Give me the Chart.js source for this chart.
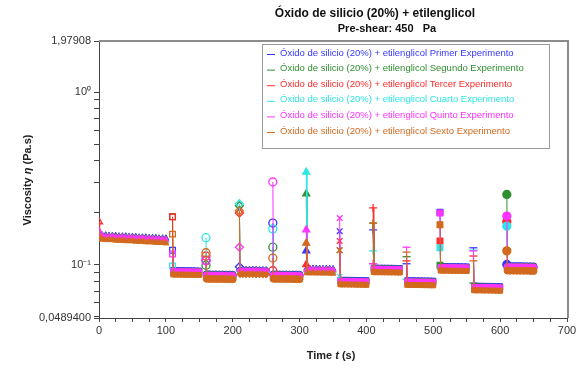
<!DOCTYPE html>
<html>
<head>
<meta charset="utf-8">
<script src="https://cdn.jsdelivr.net/npm/chart.js@4.4.0/dist/chart.umd.min.js"></script>
<style>
  body { margin: 0; background: #fff; }
  #wrap { width: 581px; height: 370px; }
</style>
</head>
<body>
<div id="wrap"><canvas id="myChart" width="581" height="370"></canvas></div>
<script>
// time (s) of every measuring point, 12 intervals
const times = [
  0, 1, 5, 10, 15, 20, 25, 30, 35, 40, 45, 50, 55, 60, 65, 70, 75, 80, 85, 90, 95, 100,
  110, 111, 115, 120, 125, 130, 135, 140, 145, 150,
  160, 161, 165, 170, 175, 180, 185, 190, 195, 200,
  210, 211, 215, 220, 225, 230, 235, 240, 245, 250,
  260, 261, 265, 270, 275, 280, 285, 290, 295, 300,
  310, 311, 315, 320, 325, 330, 335, 340, 345, 350,
  360, 361, 365, 370, 375, 380, 385, 390, 395, 400,
  410, 411, 415, 420, 425, 430, 435, 440, 445, 450,
  460, 461, 465, 470, 475, 480, 485, 490, 495, 500,
  510, 511, 515, 520, 525, 530, 535, 540, 545, 550,
  560, 561, 565, 570, 575, 580, 585, 590, 595, 600,
  610, 611, 615, 620, 625, 630, 635, 640, 645, 650
];

const primer = [
  0.150, 0.148, 0.148, 0.148, 0.147, 0.147, 0.147, 0.146, 0.146, 0.146, 0.145, 0.145, 0.145, 0.144, 0.144, 0.144, 0.143, 0.143, 0.143, 0.142, 0.142, 0.142,
  0.121, 0.0930, 0.0928, 0.0927, 0.0927, 0.0926, 0.0925, 0.0925, 0.0924, 0.0922,
  0.106, 0.0878, 0.0877, 0.0876, 0.0876, 0.0875, 0.0875, 0.0874, 0.0874, 0.0872,
  0.097, 0.0935, 0.0934, 0.0933, 0.0932, 0.0932, 0.0931, 0.0930, 0.0930, 0.0928,
  0.174, 0.0877, 0.0876, 0.0876, 0.0875, 0.0875, 0.0874, 0.0874, 0.0873, 0.0872,
  0.120, 0.0950, 0.0949, 0.0948, 0.0948, 0.0947, 0.0946, 0.0946, 0.0945, 0.0944,
  0.156, 0.0816, 0.0815, 0.0815, 0.0814, 0.0814, 0.0813, 0.0813, 0.0812, 0.0811,
  0.159, 0.0960, 0.0959, 0.0958, 0.0958, 0.0957, 0.0957, 0.0956, 0.0955, 0.0954,
  0.101, 0.0811, 0.0810, 0.0810, 0.0809, 0.0809, 0.0808, 0.0808, 0.0807, 0.0806,
  0.201, 0.0981, 0.0980, 0.0979, 0.0979, 0.0978, 0.0978, 0.0977, 0.0976, 0.0975,
  0.125, 0.0754, 0.0753, 0.0753, 0.0752, 0.0752, 0.0751, 0.0751, 0.0750, 0.0749,
  0.100, 0.0981, 0.0980, 0.0980, 0.0979, 0.0979, 0.0978, 0.0977, 0.0977, 0.0976
];
const segundo = [
  0.146, 0.147, 0.147, 0.146, 0.146, 0.146, 0.145, 0.145, 0.145, 0.144, 0.144, 0.144, 0.143, 0.143, 0.143, 0.142, 0.142, 0.142, 0.141, 0.141, 0.141, 0.140,
  0.189, 0.0920, 0.0919, 0.0918, 0.0918, 0.0917, 0.0916, 0.0916, 0.0915, 0.0914,
  0.099, 0.0869, 0.0868, 0.0867, 0.0867, 0.0866, 0.0866, 0.0865, 0.0865, 0.0864,
  0.219, 0.0925, 0.0924, 0.0923, 0.0923, 0.0922, 0.0922, 0.0921, 0.0920, 0.0919,
  0.126, 0.0869, 0.0868, 0.0867, 0.0867, 0.0866, 0.0866, 0.0865, 0.0864, 0.0863,
  0.257, 0.0940, 0.0939, 0.0939, 0.0938, 0.0938, 0.0937, 0.0937, 0.0936, 0.0935,
  0.121, 0.0807, 0.0806, 0.0806, 0.0805, 0.0805, 0.0804, 0.0804, 0.0803, 0.0802,
  0.174, 0.0950, 0.0949, 0.0949, 0.0948, 0.0948, 0.0947, 0.0947, 0.0946, 0.0945,
  0.111, 0.0802, 0.0801, 0.0801, 0.0800, 0.0800, 0.0799, 0.0799, 0.0798, 0.0797,
  0.099, 0.0971, 0.0970, 0.0970, 0.0969, 0.0969, 0.0968, 0.0968, 0.0967, 0.0966,
  0.078, 0.0746, 0.0745, 0.0745, 0.0744, 0.0744, 0.0743, 0.0743, 0.0742, 0.0741,
  0.255, 0.0971, 0.0970, 0.0970, 0.0969, 0.0969, 0.0968, 0.0968, 0.0967, 0.0966
];
const tercer = [
  0.177, 0.145, 0.145, 0.144, 0.144, 0.144, 0.143, 0.143, 0.143, 0.142, 0.142, 0.142, 0.141, 0.141, 0.141, 0.140, 0.140, 0.140, 0.139, 0.139, 0.139, 0.138,
  0.189, 0.0906, 0.0905, 0.0905, 0.0904, 0.0904, 0.0903, 0.0902, 0.0902, 0.0901,
  0.112, 0.0856, 0.0855, 0.0855, 0.0854, 0.0854, 0.0853, 0.0853, 0.0852, 0.0851,
  0.199, 0.0911, 0.0910, 0.0910, 0.0909, 0.0909, 0.0908, 0.0908, 0.0907, 0.0906,
  0.092, 0.0856, 0.0855, 0.0855, 0.0854, 0.0854, 0.0853, 0.0852, 0.0852, 0.0851,
  0.100, 0.0926, 0.0925, 0.0925, 0.0924, 0.0924, 0.0923, 0.0923, 0.0922, 0.0921,
  0.137, 0.0795, 0.0794, 0.0794, 0.0793, 0.0793, 0.0792, 0.0792, 0.0791, 0.0790,
  0.213, 0.0936, 0.0935, 0.0935, 0.0934, 0.0934, 0.0933, 0.0933, 0.0932, 0.0931,
  0.105, 0.0790, 0.0789, 0.0789, 0.0788, 0.0788, 0.0787, 0.0787, 0.0786, 0.0785,
  0.137, 0.0956, 0.0955, 0.0955, 0.0954, 0.0954, 0.0953, 0.0953, 0.0952, 0.0951,
  0.112, 0.0735, 0.0734, 0.0734, 0.0733, 0.0733, 0.0732, 0.0732, 0.0731, 0.0730,
  0.177, 0.0956, 0.0955, 0.0955, 0.0954, 0.0954, 0.0953, 0.0953, 0.0952, 0.0951
];
const cuarto = [
  0.147, 0.144, 0.144, 0.143, 0.143, 0.143, 0.142, 0.142, 0.142, 0.141, 0.141, 0.141, 0.140, 0.140, 0.140, 0.139, 0.139, 0.139, 0.138, 0.138, 0.138, 0.137,
  0.098, 0.0902, 0.0901, 0.0900, 0.0900, 0.0899, 0.0899, 0.0898, 0.0897, 0.0896,
  0.143, 0.0852, 0.0851, 0.0851, 0.0850, 0.0850, 0.0849, 0.0849, 0.0848, 0.0847,
  0.225, 0.0907, 0.0906, 0.0906, 0.0905, 0.0905, 0.0904, 0.0904, 0.0903, 0.0902,
  0.161, 0.0852, 0.0851, 0.0851, 0.0850, 0.0850, 0.0849, 0.0849, 0.0848, 0.0847,
  0.344, 0.0922, 0.0921, 0.0921, 0.0920, 0.0920, 0.0919, 0.0919, 0.0918, 0.0917,
  0.085, 0.0791, 0.0790, 0.0790, 0.0789, 0.0789, 0.0788, 0.0788, 0.0787, 0.0786,
  0.120, 0.0932, 0.0931, 0.0931, 0.0930, 0.0930, 0.0929, 0.0929, 0.0928, 0.0927,
  0.082, 0.0786, 0.0785, 0.0785, 0.0784, 0.0784, 0.0783, 0.0783, 0.0782, 0.0781,
  0.125, 0.0952, 0.0951, 0.0951, 0.0950, 0.0950, 0.0949, 0.0949, 0.0948, 0.0947,
  0.121, 0.0732, 0.0731, 0.0731, 0.0730, 0.0730, 0.0729, 0.0729, 0.0728, 0.0727,
  0.167, 0.0952, 0.0951, 0.0951, 0.0950, 0.0950, 0.0949, 0.0949, 0.0948, 0.0947
];
const quinto = [
  0.155, 0.146, 0.146, 0.145, 0.145, 0.145, 0.144, 0.144, 0.144, 0.143, 0.143, 0.143, 0.142, 0.142, 0.142, 0.141, 0.141, 0.141, 0.140, 0.140, 0.140, 0.139,
  0.115, 0.0915, 0.0914, 0.0914, 0.0913, 0.0913, 0.0912, 0.0912, 0.0911, 0.0910,
  0.105, 0.0864, 0.0863, 0.0863, 0.0862, 0.0862, 0.0861, 0.0861, 0.0860, 0.0859,
  0.126, 0.0920, 0.0919, 0.0919, 0.0918, 0.0918, 0.0917, 0.0917, 0.0916, 0.0915,
  0.301, 0.0864, 0.0863, 0.0863, 0.0862, 0.0862, 0.0861, 0.0861, 0.0860, 0.0859,
  0.159, 0.0935, 0.0934, 0.0934, 0.0933, 0.0933, 0.0932, 0.0932, 0.0931, 0.0930,
  0.186, 0.0803, 0.0802, 0.0802, 0.0801, 0.0801, 0.0800, 0.0800, 0.0799, 0.0798,
  0.101, 0.0945, 0.0944, 0.0944, 0.0943, 0.0943, 0.0942, 0.0942, 0.0941, 0.0940,
  0.126, 0.0798, 0.0797, 0.0797, 0.0796, 0.0796, 0.0795, 0.0795, 0.0794, 0.0793,
  0.199, 0.0966, 0.0965, 0.0965, 0.0964, 0.0964, 0.0963, 0.0963, 0.0962, 0.0961,
  0.120, 0.0742, 0.0741, 0.0741, 0.0740, 0.0740, 0.0739, 0.0739, 0.0738, 0.0737,
  0.191, 0.0966, 0.0965, 0.0965, 0.0964, 0.0964, 0.0963, 0.0963, 0.0962, 0.0961
];
const sexto = [
  0.146, 0.140, 0.140, 0.139, 0.139, 0.139, 0.138, 0.138, 0.138, 0.137, 0.137, 0.137, 0.136, 0.136, 0.136, 0.135, 0.135, 0.135, 0.134, 0.134, 0.134, 0.133,
  0.150, 0.0875, 0.0874, 0.0873, 0.0873, 0.0872, 0.0872, 0.0871, 0.0871, 0.0870,
  0.117, 0.0826, 0.0825, 0.0825, 0.0824, 0.0824, 0.0823, 0.0823, 0.0822, 0.0821,
  0.205, 0.0879, 0.0878, 0.0878, 0.0877, 0.0877, 0.0876, 0.0876, 0.0875, 0.0874,
  0.109, 0.0826, 0.0825, 0.0825, 0.0824, 0.0824, 0.0823, 0.0823, 0.0822, 0.0821,
  0.133, 0.0893, 0.0892, 0.0892, 0.0891, 0.0891, 0.0890, 0.0890, 0.0889, 0.0888,
  0.121, 0.0767, 0.0766, 0.0766, 0.0765, 0.0765, 0.0764, 0.0764, 0.0763, 0.0762,
  0.174, 0.0903, 0.0902, 0.0902, 0.0901, 0.0901, 0.0900, 0.0900, 0.0899, 0.0898,
  0.118, 0.0762, 0.0761, 0.0761, 0.0760, 0.0760, 0.0759, 0.0759, 0.0758, 0.0757,
  0.170, 0.0922, 0.0921, 0.0921, 0.0920, 0.0920, 0.0919, 0.0919, 0.0918, 0.0917,
  0.105, 0.0709, 0.0708, 0.0708, 0.0707, 0.0707, 0.0706, 0.0706, 0.0705, 0.0704,
  0.120, 0.0922, 0.0921, 0.0921, 0.0920, 0.0920, 0.0919, 0.0919, 0.0918, 0.0917
];

const seriesNames = [
  'Óxido de silicio (20%) + etilenglicol Primer Experimento',
  'Óxido de silicio (20%) + etilenglicol Segundo Experimento',
  'Óxido de silicio (20%) + etilenglicol Tercer Experimento',
  'Óxido de silicio (20%) + etilenglicol Cuarto Experimento',
  'Óxido de silicio (20%) + etilenglicol Quinto Experimento',
  'Óxido de silicio (20%) + etilenglicol Sexto Experimento'
];
const seriesValues = [primer, segundo, tercer, cuarto, quinto, sexto];
const seriesColors = ['#3535ff', '#2f8f2f', '#ff2a2a', '#2ee6e6', '#ff33ff', '#d2691e'];

const yLabelValues = [0.04894, 0.1, 1, 1.97908];
const yTickLabels = ['0,0489400', '10⁻¹', '10⁰', '1,97908'];
const yMinorTicks = [0.05, 0.06, 0.07, 0.08, 0.09, 0.2, 0.3, 0.4, 0.5, 0.6, 0.7, 0.8, 0.9];

// marker of each measuring interval
const segShapes = ['triangle', 'rect', 'circle', 'rectRot', 'circle', 'triangle', 'crossRot', 'cross', 'line', 'rect', 'line', 'circle'];
const segFilled = [false, false, false, false, false, true, false, false, false, true, false, true];
const thinShapes = ['crossRot', 'cross', 'line'];

function segOf(t) { return t < 105 ? 0 : Math.floor((t - 110) / 50) + 1; }
function isStart(t) { return t === 0 || (t >= 110 && (t - 110) % 50 === 0); }

function shapeAt(t) {
  const s = segShapes[segOf(t)];
  // dense runs of thin markers merge into a band
  return (!isStart(t) && thinShapes.includes(s)) ? 'rect' : s;
}

const datasets = seriesNames.map((name, k) => ({
  label: name,
  data: times.map((t, i) => ({ x: t, y: seriesValues[k][i] })),
  borderColor: seriesColors[k],
  borderWidth: 1,
  pointRadius: ctx => (ctx.raw && isStart(ctx.raw.x)) ? 4 : 3.5,
  pointBorderWidth: ctx => (ctx.raw && isStart(ctx.raw.x)) ? 1.3 : 1,
  pointBorderColor: seriesColors[k],
  pointStyle: ctx => ctx.raw ? shapeAt(ctx.raw.x) : 'circle',
  pointBackgroundColor: ctx => {
    if (!ctx.raw) return seriesColors[k];
    const t = ctx.raw.x;
    return (segFilled[segOf(t)] || !isStart(t)) ? seriesColors[k] : 'rgba(255,255,255,0)';
  },
  order: 6 - k,
  segment: {
    borderColor: ctx => (ctx.p1.parsed.x - ctx.p0.parsed.x > 6) ? 'rgba(0,0,0,0)' : undefined
  }
}));

const FONT = '"Liberation Sans", Arial, sans-serif';

function mixedText(ctx, parts, x, y) {
  // parts: [text, italic]; drawn centred at x
  let total = 0;
  parts.forEach(p => { ctx.font = (p[1] ? 'italic ' : '') + 'bold 11px ' + FONT; total += ctx.measureText(p[0]).width; });
  let cx = x - total / 2;
  ctx.textAlign = 'left';
  parts.forEach(p => {
    ctx.font = (p[1] ? 'italic ' : '') + 'bold 11px ' + FONT;
    ctx.fillText(p[0], cx, y);
    cx += ctx.measureText(p[0]).width;
  });
}

const decor = {
  id: 'decor',
  afterDraw(chart) {
    const ctx = chart.ctx;
    const a = chart.chartArea;
    ctx.save();
    // frame top / right
    ctx.strokeStyle = '#8c8c8c';
    ctx.lineWidth = 2;
    ctx.beginPath();
    ctx.moveTo(a.left, a.top);
    ctx.lineTo(a.right + 1, a.top);
    ctx.lineTo(a.right + 1, a.bottom);
    ctx.stroke();

    // legend box
    const lx = 262, ly = 44, lw = 287, lh = 104;
    ctx.fillStyle = '#fff';
    ctx.fillRect(lx, ly, lw, lh);
    ctx.strokeStyle = '#9a9a9a';
    ctx.lineWidth = 1;
    ctx.strokeRect(lx + 0.5, ly + 0.5, lw, lh);
    ctx.font = '9.5px ' + FONT;
    ctx.textBaseline = 'middle';
    ctx.textAlign = 'left';
    seriesNames.forEach((name, k) => {
      const y = ly + 9 + k * 15.6;
      ctx.strokeStyle = seriesColors[k];
      ctx.beginPath();
      ctx.moveTo(lx + 5, y + 1.5);
      ctx.lineTo(lx + 13, y + 1.5);
      ctx.stroke();
      ctx.fillStyle = seriesColors[k];
      ctx.fillText(name, lx + 18, y);
    });

    // titles
    ctx.fillStyle = '#111';
    ctx.textAlign = 'center';
    ctx.font = 'bold 12px ' + FONT;
    ctx.fillText('Óxido de silicio (20%) + etilenglicol', 375, 14);
    ctx.font = 'bold 11px ' + FONT;
    ctx.fillText('Pre-shear: 450   Pa', 387, 29);

    // axis titles
    ctx.fillStyle = '#222';
    mixedText(ctx, [['Time ', false], ['t', true], [' (s)', false]], 331, 356);
    ctx.translate(28, 180);
    ctx.rotate(-Math.PI / 2);
    mixedText(ctx, [['Viscosity ', false], ['η', true], [' (Pa.s)', false]], 0, 0);
    ctx.restore();
  }
};

new Chart('myChart', {
  type: 'line',
  data: { datasets },
  options: {
    responsive: false,
    animation: false,
    layout: { padding: { top: 41, right: 14, left: 0, bottom: 0 } },
    plugins: {
      legend: { display: false },
      title: { display: false },
      tooltip: { enabled: false }
    },
    scales: {
      x: {
        type: 'linear',
        min: 0,
        max: 700,
        afterFit: s => { s.height = 52; },
        ticks: {
          stepSize: 25,
          autoSkip: false,
          maxRotation: 0,
          padding: 2,
          color: '#333',
          font: { family: FONT, size: 11 },
          callback: v => (v % 100 === 0 ? String(v) : '')
        },
        grid: { drawOnChartArea: false, drawTicks: true, tickLength: 4, tickColor: '#444' },
        border: { display: true, color: '#444', width: 1 }
      },
      y: {
        type: 'logarithmic',
        min: 0.04894,
        max: 1.97908,
        afterFit: s => { s.width = 99; },
        afterBuildTicks: s => {
          s.ticks = yLabelValues.concat(yMinorTicks).sort((p, q) => p - q).map(v => ({ value: v }));
        },
        ticks: {
          autoSkip: false,
          padding: 3,
          color: '#333',
          font: { family: FONT, size: 11 },
          callback: v => {
            const i = yLabelValues.indexOf(v);
            return i >= 0 ? yTickLabels[i] : '';
          }
        },
        grid: { drawOnChartArea: false, drawTicks: true, tickLength: 5, tickColor: '#444' },
        border: { display: true, color: '#444', width: 1 }
      }
    }
  },
  plugins: [decor]
});
</script>
</body>
</html>
